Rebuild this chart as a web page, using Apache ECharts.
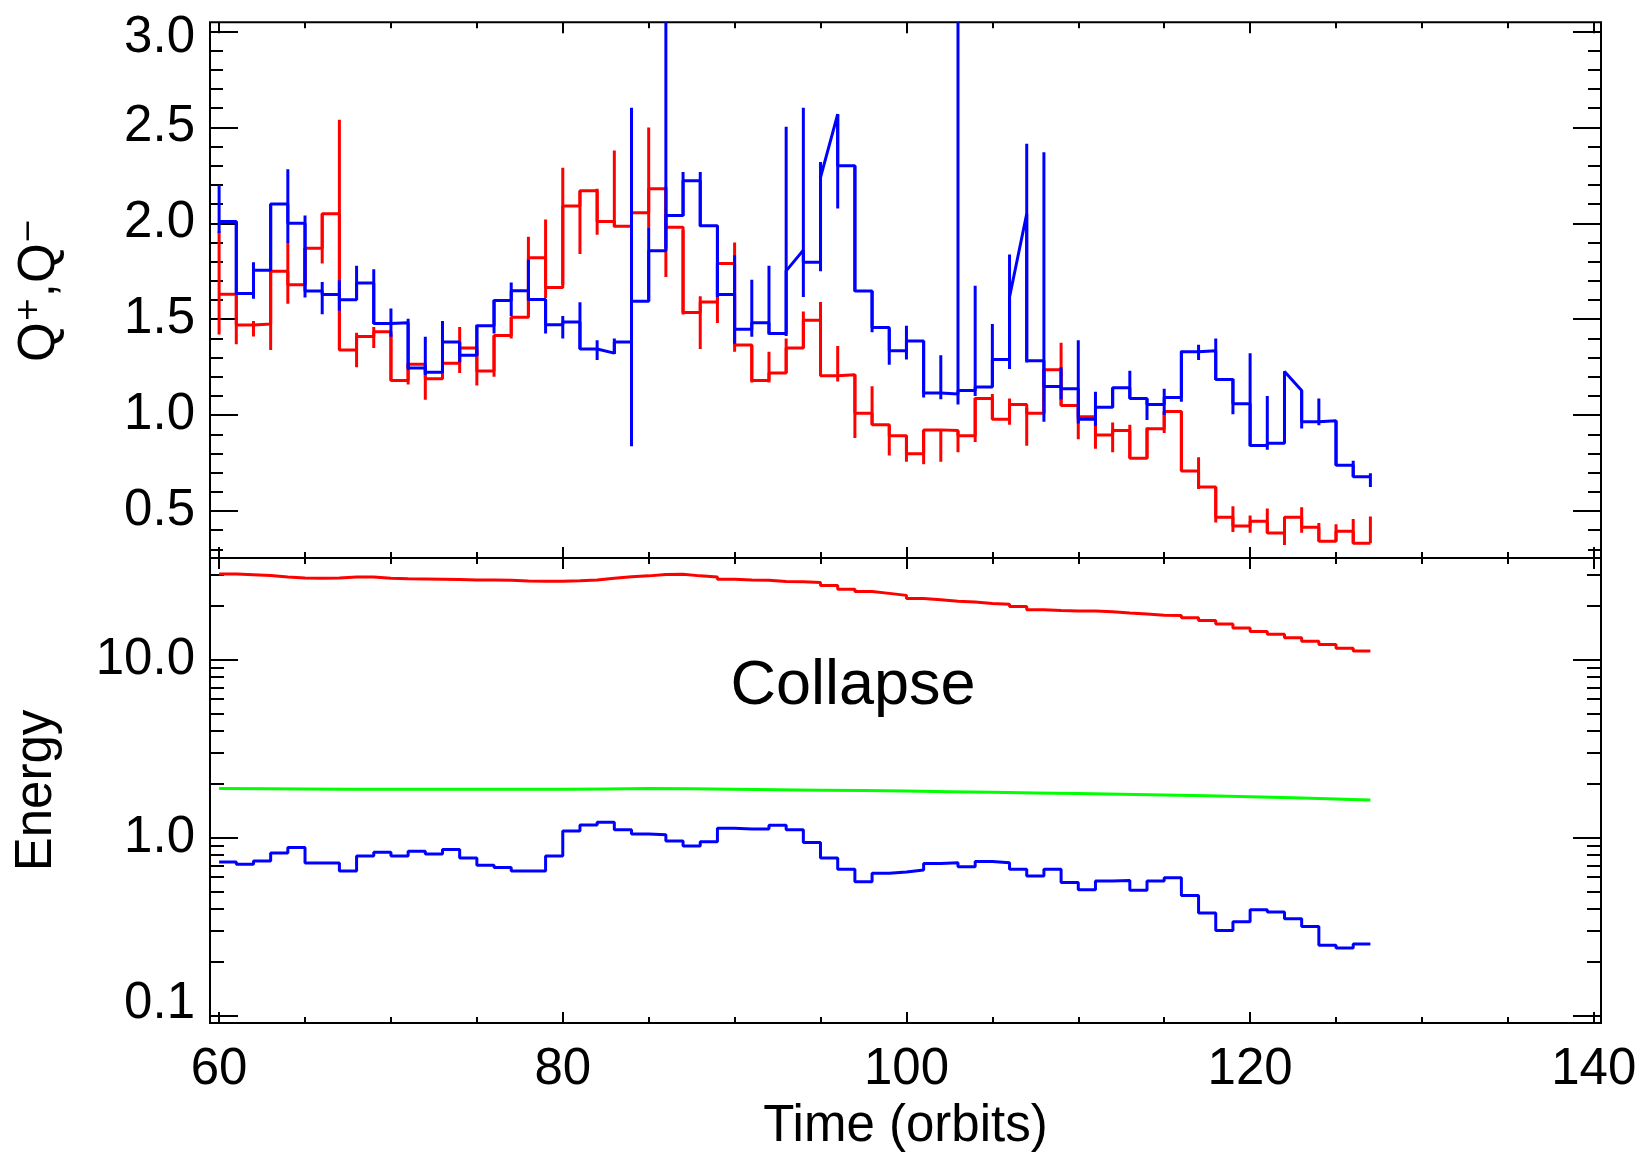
<!DOCTYPE html>
<html><head><meta charset="utf-8">
<script src="https://cdn.jsdelivr.net/npm/echarts@6/dist/echarts.min.js"></script>
<style>html,body{margin:0;padding:0;background:#fff}#c{width:1640px;height:1153px}</style>
</head><body><div id="c"></div><script>
// ---------- DATA ----------
// time bins: t = 60 .. 126 (each bin spans [t, t+1]); error bars at t = 60 .. 127
const T0 = 60;
const qRed = [1.63,1.47,1.475,1.75,1.68,1.87,2.05,1.34,1.41,1.435,1.18,1.265,1.19,1.27,1.35,1.23,1.415,1.51,1.82,1.665,
  2.09,2.17,2.01,1.985,2.055,2.18,1.98,1.535,1.59,1.79,1.365,1.18,1.22,1.35,1.495,1.205,1.21,1.01,0.95,0.893,
  0.798,0.923,0.92,0.893,1.086,0.979,1.055,1.01,1.236,1.05,0.992,0.896,0.92,0.775,0.929,1.019,0.708,0.625,0.467,0.422,
  0.447,0.385,0.467,0.415,0.342,0.395,0.332];
const qRedLo = [1.42,1.37,1.41,1.34,1.58,1.68,1.79,1.34,1.25,1.35,1.18,1.16,1.08,1.21,1.22,1.155,1.20,1.40,1.51,1.61,
  1.68,1.84,1.94,1.98,1.98,1.98,1.72,1.525,1.345,1.48,1.33,1.17,1.17,1.22,1.35,1.205,1.175,0.88,0.95,0.79,
  0.757,0.744,0.757,0.806,0.86,0.979,0.95,0.84,1.01,1.05,0.874,0.824,0.806,0.775,0.775,0.907,0.708,0.615,0.44,0.39,
  0.386,0.385,0.323,0.386,0.342,0.342,0.332,0.332];
const qRedHi = [1.96,1.63,1.49,1.75,1.90,1.87,2.05,2.54,1.43,1.46,1.42,1.27,1.26,1.27,1.46,1.34,1.415,1.51,1.93,2.02,
  2.29,2.17,2.18,2.38,2.06,2.50,2.19,1.965,1.62,1.79,1.90,1.365,1.33,1.40,1.54,1.59,1.36,1.21,1.15,0.95,
  0.893,0.923,0.923,0.917,1.09,1.11,1.086,1.037,1.24,1.377,1.05,0.99,0.961,0.95,0.935,1.019,1.019,0.78,0.625,0.525,
  0.476,0.513,0.467,0.52,0.437,0.431,0.458,0.471];

const qBlue = [2.01,1.634,1.755,2.10,2.00,1.647,1.629,1.602,1.689,1.477,1.482,1.245,1.224,1.381,1.312,1.466,1.598,1.649,1.603,1.471,
  1.486,1.345,1.345,1.381,1.593,1.857,2.041,2.222,1.987,1.629,1.448,1.481,1.426,1.752,1.797,2.24,2.30,1.647,1.457,1.336,
  1.386,1.115,1.11,1.128,1.146,1.29,1.616,1.283,1.149,1.137,0.979,1.041,1.142,1.086,1.055,1.092,1.33,1.336,1.186,1.059,
  0.842,0.853,1.227,0.965,0.97,0.739,0.679];
// bins whose segment slopes: [t, value at end of bin]
const qBlueSlant = [[82,1.323],[93,1.86],[95,2.569],[106,2.05],[122,1.128]];
const qBlueLo = [1.95,1.63,1.607,1.755,1.897,1.613,1.526,1.544,1.602,1.475,1.408,1.236,1.209,1.222,1.276,1.31,1.426,1.517,1.598,1.426,
  1.399,1.345,1.287,1.318,0.838,1.593,1.87,2.04,1.983,1.616,1.372,1.408,1.42,1.413,1.616,1.75,2.077,1.644,1.432,1.263,
  1.29,1.092,1.083,1.055,1.10,1.146,1.24,1.274,0.965,1.082,0.956,0.943,1.04,1.086,0.974,1.0,1.07,1.287,1.183,1.005,
  0.837,0.82,0.865,0.93,0.947,0.739,0.679,0.625];
const qBlueHi = [2.20,2.01,1.797,2.10,2.282,2.041,1.694,1.703,1.779,1.761,1.556,1.502,1.408,1.49,1.381,1.471,1.602,1.692,1.81,1.60,
  1.517,1.589,1.39,1.40,2.602,1.979,3.3,2.267,2.267,1.987,1.833,1.706,1.779,2.503,2.602,2.32,2.569,2.30,1.647,1.45,
  1.466,1.386,1.312,3.3,1.674,1.475,1.837,2.415,2.37,1.25,1.39,1.122,1.142,1.231,1.086,1.137,1.336,1.367,1.40,1.19,
  1.323,1.10,1.227,1.128,1.086,0.97,0.762,0.697];

const eRed = [30.3,30.0,29.7,29.2,28.8,28.7,28.8,29.2,29.2,28.7,28.5,28.4,28.3,28.2,28.1,28.1,28.0,27.7,27.6,27.6,
  27.8,28.1,28.7,29.3,29.6,30.1,30.2,29.6,29.2,28.3,28.1,28.0,27.5,27.4,27.2,26.1,24.9,24.2,23.6,23.0,
  22.1,21.7,21.3,21.1,20.7,20.5,19.9,19.1,18.9,18.8,18.8,18.6,18.3,18.1,17.8,17.7,17.2,16.6,15.9,15.1,
  14.4,13.9,13.3,12.7,12.2,11.6,11.2];
const eBlue = [0.73,0.71,0.74,0.82,0.88,0.72,0.72,0.65,0.79,0.83,0.79,0.84,0.81,0.86,0.77,0.70,0.68,0.65,0.65,0.79,
  1.09,1.18,1.22,1.11,1.05,1.04,0.96,0.90,0.95,1.13,1.12,1.12,1.175,1.11,0.94,0.77,0.665,0.566,0.632,0.642,
  0.658,0.717,0.724,0.686,0.735,0.724,0.665,0.61,0.665,0.56,0.511,0.572,0.575,0.507,0.572,0.595,0.474,0.378,0.301,0.337,
  0.394,0.382,0.351,0.317,0.249,0.240,0.253];
const eGreenT = [60,65,70,75,80,85,90,95,100,105,110,115,120,125,127];
const eGreen  = [1.89,1.88,1.87,1.87,1.87,1.89,1.87,1.85,1.83,1.80,1.77,1.74,1.70,1.65,1.63];

// tick values / labels
const xMajorTicks = [60,80,100,120,140];
const xMinorTicks = [65,70,75,85,90,95,105,110,115,125,130,135];
const qMajorTicks = [0.5,1.0,1.5,2.0,2.5,3.0];
const qMinorTicks = [0.3,0.4,0.6,0.7,0.8,0.9,1.1,1.2,1.3,1.4,1.6,1.7,1.8,1.9,2.1,2.2,2.3,2.4,2.6,2.7,2.8,2.9];
const eMajorTicks = [0.1,1,10];
const eMinorTicks = [0.2,0.3,0.4,0.5,0.6,0.7,0.8,0.9,2,3,4,5,6,7,8,9,20,30];

// ---------- HELPERS ----------
const FONT = '"Liberation Sans", Arial, sans-serif';
const X_MIN = 59.47, X_MAX = 140.42;
const Q_MIN = 0.255, Q_MAX = 3.048;
const E_MIN = 0.091, E_MAX = 37.3;
const LW = 3;

function stepPoints(vals, slants) {
  const endMap = {};
  (slants || []).forEach(function (p) { endMap[p[0]] = p[1]; });
  const pts = [];
  vals.forEach(function (v, i) {
    const t = T0 + i;
    pts.push([t, v]);
    pts.push([t + 1, endMap[t] !== undefined ? endMap[t] : v]);
  });
  return pts;
}
function errData(lo, hi) { return lo.map(function (l, i) { return [T0 + i, l, hi[i]]; }); }
function errRender(color) {
  return function (params, api) {
    const p1 = api.coord([api.value(0), api.value(1)]);
    const p2 = api.coord([api.value(0), api.value(2)]);
    return { type: 'line', shape: { x1: p1[0], y1: p1[1], x2: p2[0], y2: p2[1] },
             style: { stroke: color, lineWidth: LW } };
  };
}
const tickStyle = { color: '#000', width: 2 };
const labelRich = {
  up: { fontSize: 51, lineHeight: 51, fontFamily: FONT, color: '#000', padding: [0, 0, 24, 0] },
  dn: { fontSize: 51, lineHeight: 51, fontFamily: FONT, color: '#000', padding: [12, 0, 0, 0] }
};

function makeX(gridIndex, position, ticks, len, labels, name) {
  const ax = { type: 'value', gridIndex: gridIndex, position: position, min: X_MIN, max: X_MAX,
    axisLine: { show: false }, splitLine: { show: false },
    axisTick: { show: true, inside: true, length: len, customValues: ticks, lineStyle: tickStyle },
    axisLabel: labels ? { show: true, customValues: ticks, margin: 21, fontSize: 51, lineHeight: 51,
      fontFamily: FONT, color: '#000', formatter: function (v) { return String(Math.round(v)); } } : { show: false } };
  if (name) {
    ax.name = name; ax.nameLocation = 'middle'; ax.nameGap = 78;
    ax.nameTextStyle = { fontSize: 51, lineHeight: 51, fontFamily: FONT, color: '#000' };
  }
  return ax;
}
function makeY(gridIndex, type, min, max, position, ticks, len, labels, name, nameStyle, nameGap) {
  const ax = { type: type, gridIndex: gridIndex, position: position, min: min, max: max,
    axisLine: { show: false }, splitLine: { show: false },
    axisTick: { show: true, inside: true, length: len, customValues: ticks, lineStyle: tickStyle },
    axisLabel: labels ? { show: true, customValues: ticks, margin: 15, fontSize: 51, lineHeight: 51,
      fontFamily: FONT, color: '#000', rich: labelRich,
      formatter: function (v) {
        const s = Number(v).toFixed(1);
        if (Math.abs(v - 0.1) < 1e-9) return '{up|' + s + '}';
        if (Math.abs(v - 3.0) < 1e-9) return '{dn|' + s + '}';
        return s;
      } } : { show: false } };
  if (type === 'log') ax.logBase = 10;
  if (name) {
    ax.name = name; ax.nameLocation = 'middle'; ax.nameRotate = 90; ax.nameGap = nameGap;
    ax.nameTextStyle = nameStyle;
  }
  return ax;
}

const xAxes = [
  makeX(0, 'bottom', xMajorTicks, 11, false), makeX(0, 'bottom', xMinorTicks, 6, false),
  makeX(0, 'top', xMajorTicks, 11, false), makeX(0, 'top', xMinorTicks, 6, false),
  makeX(1, 'bottom', xMajorTicks, 11, true, 'Time (orbits)'), makeX(1, 'bottom', xMinorTicks, 6, false),
  makeX(1, 'top', xMajorTicks, 11, false), makeX(1, 'top', xMinorTicks, 6, false)
];
const qNameStyle = { fontFamily: FONT, color: '#000', rich: {
  b: { fontSize: 51, lineHeight: 51, fontFamily: FONT, color: '#000' },
  s: { fontSize: 30, lineHeight: 51, verticalAlign: 'top', fontFamily: '"DejaVu Sans", sans-serif', color: '#000' } } };
const eNameStyle = { fontSize: 51, lineHeight: 51, fontFamily: FONT, color: '#000' };
const yAxes = [
  makeY(0, 'value', Q_MIN, Q_MAX, 'left', qMajorTicks, 28, true, '{b|Q}{s|+}{b|,Q}{s|\u2212}', qNameStyle, 145),
  makeY(0, 'value', Q_MIN, Q_MAX, 'left', qMinorTicks, 13, false),
  makeY(0, 'value', Q_MIN, Q_MAX, 'right', qMajorTicks, 28, false),
  makeY(0, 'value', Q_MIN, Q_MAX, 'right', qMinorTicks, 13, false),
  makeY(1, 'log', E_MIN, E_MAX, 'left', eMajorTicks, 28, true, 'Energy', eNameStyle, 148),
  makeY(1, 'log', E_MIN, E_MAX, 'left', eMinorTicks, 14, false),
  makeY(1, 'log', E_MIN, E_MAX, 'right', eMajorTicks, 28, false),
  makeY(1, 'log', E_MIN, E_MAX, 'right', eMinorTicks, 14, false)
];

function lineSeries(xi, yi, data, color, z, extra) {
  return Object.assign({ type: 'line', xAxisIndex: xi, yAxisIndex: yi, data: data, showSymbol: false, symbol: 'none',
    lineStyle: { color: color, width: LW }, itemStyle: { color: color }, z: z, silent: true, clip: true }, extra || {});
}
function errSeries(xi, yi, lo, hi, color, z) {
  return { type: 'custom', xAxisIndex: xi, yAxisIndex: yi, data: errData(lo, hi), renderItem: errRender(color),
    clip: true, z: z, silent: true };
}

const option = {
  animation: false,
  backgroundColor: '#fff',
  grid: [
    { left: 210, top: 21, width: 1391, height: 537, show: true, borderColor: '#000', borderWidth: 2, backgroundColor: 'transparent' },
    { left: 210, top: 558, width: 1391, height: 465, show: true, borderColor: '#000', borderWidth: 2, backgroundColor: 'transparent' }
  ],
  xAxis: xAxes,
  yAxis: yAxes,
  graphic: [{ type: 'text', style: { text: 'Collapse', x: 853, y: 687, fontSize: 63, fontFamily: FONT, fill: '#000',
    align: 'center', verticalAlign: 'middle', textAlign: 'center', textVerticalAlign: 'middle' } }],
  series: [
    errSeries(0, 0, qRedLo, qRedHi, '#ff0000', 2),
    lineSeries(0, 0, stepPoints(qRed), '#ff0000', 3),
    errSeries(0, 0, qBlueLo, qBlueHi, '#0000ff', 4),
    lineSeries(0, 0, stepPoints(qBlue, qBlueSlant), '#0000ff', 5),
    lineSeries(4, 4, stepPoints(eRed), '#ff0000', 3),
    lineSeries(4, 4, eGreenT.map(function (t, i) { return [t, eGreen[i]]; }), '#00ff00', 3, { smooth: 0.3 }),
    lineSeries(4, 4, stepPoints(eBlue), '#0000ff', 3)
  ]
};
const chart = echarts.init(document.getElementById('c'), null, { renderer: 'canvas' });
chart.setOption(option);
</script></body></html>
